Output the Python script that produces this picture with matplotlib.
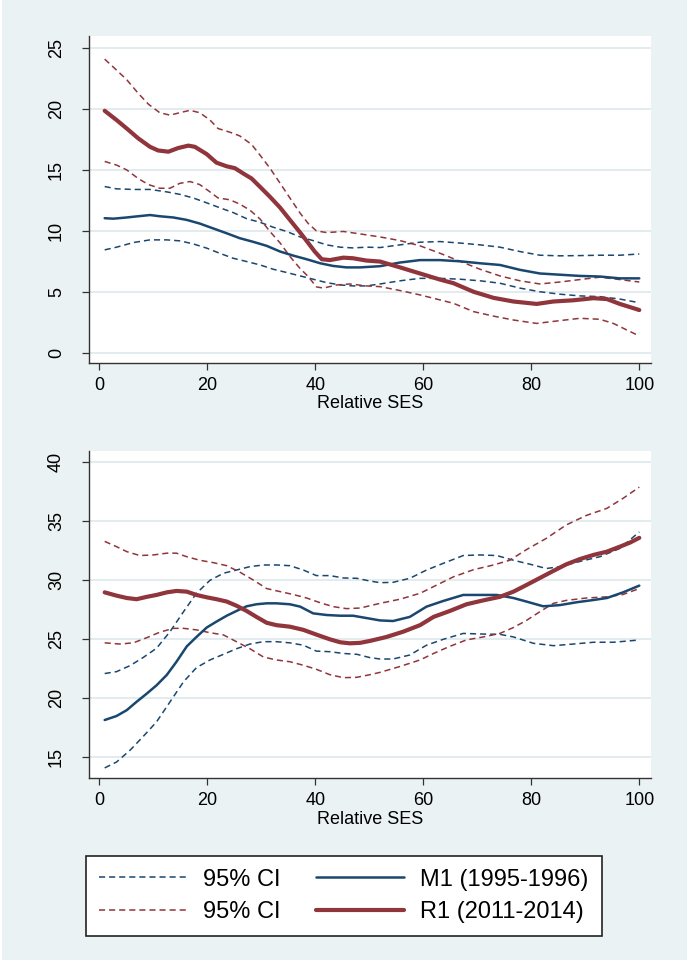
import matplotlib
matplotlib.use("Agg")
import matplotlib.pyplot as plt
from matplotlib.patches import Rectangle

plt.rcParams['font.family'] = ['Liberation Sans', 'DejaVu Sans']

# ---------------- data: top panel ----------------
top_r1_x = [1, 3.2, 5.1, 7.2, 9.4, 10.9, 12.8, 14.6, 16.5, 17.7, 19.9, 21.7, 23.6, 25.1, 26.7, 28.2, 29.8,
            31.6, 33.5, 35.3, 37.2, 38.7, 39.9, 41.2, 42.7, 45.2, 47, 49.5, 52, 55.7, 59.4, 63.1, 65.6,
            69.3, 73, 76.7, 81, 84.1, 87.8, 91.5, 94, 96.4, 100]
top_r1_y = [19.86, 19.1, 18.4, 17.6, 16.9, 16.6, 16.5, 16.8, 17.0, 16.9, 16.3, 15.6, 15.3, 15.15, 14.7, 14.3,
            13.6, 12.8, 11.9, 10.9, 9.86, 9.0, 8.3, 7.67, 7.6, 7.8, 7.75, 7.56, 7.48, 7.0, 6.5, 6.0, 5.7,
            5.0, 4.5, 4.2, 4.0, 4.2, 4.3, 4.47, 4.4, 4.0, 3.5]

top_r1_hi_x = [1, 3.2, 5.1, 7.2, 9.1, 11.2, 13.1, 14.9, 16.8, 18.6, 20.5, 22, 24.2, 26, 28.2, 29.8, 31.6,
               33.5, 35.3, 37.2, 38.7, 40.2, 42.1, 45.2, 48.3, 52, 55.7, 59.4, 63.1, 66.8, 70.5, 74.2,
               77.9, 81.6, 85.3, 89, 92.7, 96.4, 100]
top_r1_hi_y = [24.1, 23.2, 22.4, 21.3, 20.4, 19.7, 19.5, 19.7, 19.9, 19.7, 19.1, 18.4, 18.1, 17.8, 17.1,
               16.2, 15.15, 13.9, 12.7, 11.45, 10.6, 10.0, 9.86, 9.95, 9.75, 9.5, 9.2, 8.77, 8.16, 7.5,
               6.85, 6.3, 5.9, 5.64, 5.8, 6.0, 6.2, 6.0, 5.8]

top_r1_lo_x = [1, 3.2, 5.1, 7.2, 9.1, 11.2, 13.1, 14.9, 16.8, 18.6, 20.5, 22, 24.2, 26, 27.9, 29.8, 31.6,
               33.5, 35.3, 37.2, 38.7, 40.2, 41.5, 44, 46.4, 49.5, 52, 55.7, 59.4, 63.1, 65.6, 69.3, 73,
               76.7, 81, 85.3, 89, 92.7, 95.2, 97.7, 100]
top_r1_lo_y = [15.7, 15.4, 15.0, 14.3, 13.8, 13.5, 13.5, 13.9, 14.05, 13.8, 13.2, 12.7, 12.55, 12.2, 11.7,
               10.96, 9.95, 9.0, 7.9, 6.9, 6.25, 5.4, 5.3, 5.56, 5.64, 5.48, 5.42, 5.1, 4.74, 4.33, 4.05,
               3.37, 3.0, 2.68, 2.4, 2.63, 2.82, 2.74, 2.4, 1.86, 1.37]

top_m1_x = [1, 2.6, 5.1, 7.2, 9.4, 11.2, 13.7, 16.2, 18.6, 21.1, 23.6, 26, 28.5, 31, 33.5, 35.9, 38.4,
            40.9, 43.3, 45.8, 48.3, 52, 55.7, 59.4, 63.1, 66.8, 70.5, 74.2, 77.9, 81.6, 85.3, 89, 92.7,
            96.4, 100]
top_m1_y = [11.04, 11.0, 11.1, 11.2, 11.3, 11.2, 11.1, 10.9, 10.6, 10.2, 9.8, 9.4, 9.1, 8.77, 8.3, 7.97,
            7.67, 7.34, 7.12, 7.0, 7.0, 7.1, 7.4, 7.6, 7.6, 7.5, 7.34, 7.2, 6.8, 6.5, 6.4, 6.3, 6.25,
            6.1, 6.1]

top_m1_ci_x = [1, 3.2, 6.3, 9.4, 12.5, 14.9, 17.4, 19.9, 22.3, 24.8, 27.3, 29.8, 32.2, 34.7, 37.2, 39.6,
               42.1, 44.6, 47, 49.5, 52, 55.7, 59.4, 63.1, 66.8, 70.5, 74.2, 77.9, 81.6, 85.3, 89, 92.7,
               96.4, 100]
top_m1_hi_y = [13.64, 13.45, 13.4, 13.4, 13.2, 13.0, 12.7, 12.3, 11.9, 11.5, 11.0, 10.7, 10.3, 9.95, 9.5,
               9.2, 8.85, 8.66, 8.6, 8.66, 8.63, 8.85, 9.07, 9.12, 9.0, 8.85, 8.66, 8.3, 8.0, 7.95, 7.97,
               8.0, 8.0, 8.1]
top_m1_lo_y = [8.44, 8.66, 9.04, 9.26, 9.26, 9.18, 8.93, 8.58, 8.16, 7.75, 7.48, 7.2, 6.85, 6.58, 6.3,
               6.03, 5.75, 5.56, 5.48, 5.48, 5.64, 5.9, 6.1, 6.1, 6.03, 5.9, 5.7, 5.3, 5.0, 4.8, 4.66,
               4.6, 4.4, 4.1]

# ---------------- data: bottom panel ----------------
bot_r1_x = [1, 3.2, 5.1, 6.9, 8.8, 10.6, 12.5, 14.3, 16.2, 18, 19.9, 21.7, 23.6, 25.4, 27.3, 29.1, 31,
            32.8, 35.3, 37.8, 40.2, 42.7, 44.6, 46.4, 48.3, 50.1, 53.2, 56.3, 59.4, 61.9, 64.9, 68, 71.1,
            74.2, 76.7, 79.1, 81.6, 84.1, 86.5, 89, 91.5, 94, 96.4, 98.3, 100]
bot_r1_y = [28.98, 28.7, 28.5, 28.4, 28.6, 28.76, 28.98, 29.1, 29.04, 28.76, 28.56, 28.4, 28.2, 27.85,
            27.4, 26.9, 26.4, 26.2, 26.07, 25.8, 25.4, 25.0, 24.75, 24.66, 24.7, 24.86, 25.2, 25.65,
            26.2, 26.9, 27.4, 27.97, 28.3, 28.6, 29.04, 29.6, 30.2, 30.8, 31.36, 31.8, 32.15, 32.43,
            32.85, 33.2, 33.6]

bot_r1_hi_x = [1, 3.2, 5.1, 7.5, 10, 12.5, 14.3, 16.2, 18.6, 21.1, 23.6, 26, 28.5, 31, 33.5, 35.9, 38.4,
               40.9, 43.3, 45.8, 48.3, 52, 55.7, 59.4, 62.5, 65.6, 69.3, 73, 76, 79.1, 82.8, 86.5, 90.2,
               94, 97, 100]
bot_r1_hi_y = [33.3, 32.85, 32.43, 32.1, 32.15, 32.3, 32.3, 32.0, 31.7, 31.5, 31.24, 30.7, 30.03, 29.3,
               29.04, 28.8, 28.5, 28.1, 27.77, 27.6, 27.65, 28.05, 28.4, 28.9, 29.6, 30.3, 30.9, 31.3,
               31.7, 32.6, 33.56, 34.7, 35.5, 36.1, 36.95, 37.9]

bot_r1_lo_x = [1, 3.8, 6.3, 8.8, 11.2, 13.7, 15.6, 18, 20.5, 23, 25.4, 27.9, 30.4, 32.8, 35.3, 37.8, 40.2,
               42.7, 45.2, 47.7, 50.1, 52, 55.7, 59.4, 61.9, 64.9, 68, 71.1, 74.2, 76.7, 79.1, 81.6,
               84.1, 86.5, 90.2, 94, 97, 100]
bot_r1_lo_y = [24.7, 24.6, 24.7, 25.14, 25.6, 25.93, 25.93, 25.8, 25.56, 25.37, 24.8, 24.2, 23.5, 23.25,
               23.1, 22.8, 22.46, 22.0, 21.75, 21.78, 22.0, 22.2, 22.7, 23.25, 23.8, 24.4, 24.95, 25.2,
               25.5, 26.0, 26.6, 27.34, 28.05, 28.3, 28.5, 28.6, 28.8, 29.3]

bot_m1_x = [1, 3.2, 5.1, 6.9, 8.8, 10.6, 12.5, 14.3, 16.2, 18, 19.9, 21.7, 23.6, 25.4, 27.3, 29.1, 31,
            32.8, 35.3, 37.2, 39.6, 42.1, 44.6, 47, 49.5, 52, 54.4, 57.5, 60.6, 63.7, 67.4, 70.5, 73.6,
            76.7, 79.1, 82.2, 85.3, 88.4, 91.5, 94, 97, 100]
bot_m1_y = [18.16, 18.5, 19.0, 19.7, 20.4, 21.1, 21.98, 23.1, 24.4, 25.2, 26.0, 26.5, 27.0, 27.4, 27.8,
            27.97, 28.05, 28.05, 27.97, 27.77, 27.2, 27.06, 27.0, 27.0, 26.8, 26.6, 26.55, 26.9, 27.77,
            28.25, 28.76, 28.76, 28.76, 28.5, 28.2, 27.8, 27.9, 28.14, 28.33, 28.5, 28.98, 29.55]

bot_m1_hi_x = [1, 3.2, 5.7, 8.1, 10.6, 13.1, 15.6, 18, 20.5, 23, 25.4, 27.9, 30.4, 32.8, 35.3, 37.8, 40.2,
               42.7, 45.2, 47.7, 50.1, 52, 54.4, 57.5, 60.6, 63.7, 67.4, 70.5, 73.6, 76.7, 79.8, 82.8,
               85.3, 89, 92.7, 96.4, 100]
bot_m1_hi_y = [22.1, 22.26, 22.77, 23.45, 24.24, 25.65, 27.34, 28.9, 30.0, 30.6, 30.87, 31.16, 31.3, 31.3,
               31.24, 30.87, 30.4, 30.4, 30.2, 30.17, 29.94, 29.8, 29.83, 30.17, 30.87, 31.44, 32.1,
               32.15, 32.1, 31.7, 31.36, 31.0, 31.16, 31.6, 32.0, 32.7, 34.1]

bot_m1_lo_x = [1, 3.2, 5.7, 8.1, 10.6, 13.1, 15.6, 18, 20.5, 23, 25.4, 27.9, 30.4, 32.8, 35.3, 37.8, 40.2,
               42.7, 45.2, 47.7, 50.1, 52, 54.4, 57.5, 60.6, 63.7, 67.4, 70.5, 74.2, 76.7, 80.4, 84.1,
               87.8, 91.5, 95.2, 100]
bot_m1_lo_y = [14.1, 14.6, 15.6, 16.75, 18.0, 19.7, 21.4, 22.6, 23.25, 23.73, 24.2, 24.6, 24.8, 24.8,
               24.7, 24.5, 24.0, 23.95, 23.8, 23.73, 23.45, 23.33, 23.33, 23.67, 24.5, 25.0, 25.5, 25.45,
               25.42, 25.2, 24.66, 24.46, 24.6, 24.75, 24.75, 24.94]

x_ticks = [0, 20, 40, 60, 80, 100]
top_yticks = [0, 5, 10, 15, 20, 25]
bot_yticks = [15, 20, 25, 30, 35, 40]
x_label = "Relative SES"
legend_labels = ["95% CI", "95% CI", "M1 (1995-1996)", "R1 (2011-2014)"]

# ---------------- styling ----------------
BG = '#EAF2F3'
NAVY = '#1A476F'
MAROON = '#90353B'
GRID = '#E2ECEE'
W, H = 687, 960

fig = plt.figure(figsize=(W / 100, H / 100), dpi=100, facecolor='white')
fig.patches.append(Rectangle((2 / W, 0), 1, 1, transform=fig.transFigure,
                             facecolor=BG, edgecolor='none', zorder=-10))


def make_ax(left_px, right_px, top_px, bottom_px):
    return fig.add_axes([left_px / W, 1 - bottom_px / H, (right_px - left_px) / W,
                         (bottom_px - top_px) / H])


def style(ax, yticks, ylim):
    ax.set_facecolor('white')
    ax.set_xlim(-1.96, 102.17)
    ax.set_ylim(*ylim)
    ax.set_xticks(x_ticks)
    ax.set_yticks(yticks)
    for s in ['top', 'right']:
        ax.spines[s].set_visible(False)
    for s in ['left', 'bottom']:
        ax.spines[s].set_color('#333333')
        ax.spines[s].set_linewidth(1.0)
    ax.tick_params(axis='both', direction='out', length=5, width=0.9, color='#333333',
                   labelsize=13, labelcolor='black')
    ax.tick_params(axis='x', pad=5)
    ax.tick_params(axis='y', pad=12)
    for lab in ax.get_yticklabels():
        lab.set_rotation(90)
        lab.set_va('center')
    ax.yaxis.grid(True, color=GRID, linewidth=1.4)
    ax.xaxis.grid(False)
    ax.set_axisbelow(True)
    ax.set_xlabel(x_label, fontsize=13, labelpad=1)


dash = (4, 2.6)


def draw(ax, m_hi, m_lo, r_hi, r_lo, m, r):
    hb, = ax.plot(*m_hi, color=NAVY, lw=1.1, dashes=dash, zorder=2)
    ax.plot(*m_lo, color=NAVY, lw=1.1, dashes=dash, zorder=2)
    hr, = ax.plot(*r_hi, color=MAROON, lw=1.1, dashes=dash, zorder=2)
    ax.plot(*r_lo, color=MAROON, lw=1.1, dashes=dash, zorder=2)
    hm, = ax.plot(*m, color=NAVY, lw=1.8, zorder=3, solid_capstyle='round')
    hR, = ax.plot(*r, color=MAROON, lw=3.0, zorder=4, solid_capstyle='round')
    return hb, hr, hm, hR


ax1 = make_ax(88.7, 651, 36, 363)
style(ax1, top_yticks, (-0.85, 26.0))
handles = draw(ax1, (top_m1_ci_x, top_m1_hi_y), (top_m1_ci_x, top_m1_lo_y),
               (top_r1_hi_x, top_r1_hi_y), (top_r1_lo_x, top_r1_lo_y),
               (top_m1_x, top_m1_y), (top_r1_x, top_r1_y))

ax2 = make_ax(88.7, 651, 451, 778.3)
style(ax2, bot_yticks, (13.22, 40.96))
draw(ax2, (bot_m1_hi_x, bot_m1_hi_y), (bot_m1_lo_x, bot_m1_lo_y),
     (bot_r1_hi_x, bot_r1_hi_y), (bot_r1_lo_x, bot_r1_lo_y),
     (bot_m1_x, bot_m1_y), (bot_r1_x, bot_r1_y))

leg = fig.legend(handles, legend_labels, ncol=2, loc='upper left',
                 bbox_to_anchor=(86 / W, 1 - 855.7 / H), bbox_transform=fig.transFigure,
                 borderaxespad=0, fontsize=17, frameon=True, fancybox=False,
                 handlelength=3.73, handletextpad=0.68, columnspacing=1.5,
                 labelspacing=0.45, borderpad=0.55)
frame = leg.get_frame()
frame.set_edgecolor('#222222')
frame.set_linewidth(1.2)
frame.set_facecolor('white')
frame.set_alpha(1)

fig.savefig('out.png', dpi=100, facecolor=fig.get_facecolor())
